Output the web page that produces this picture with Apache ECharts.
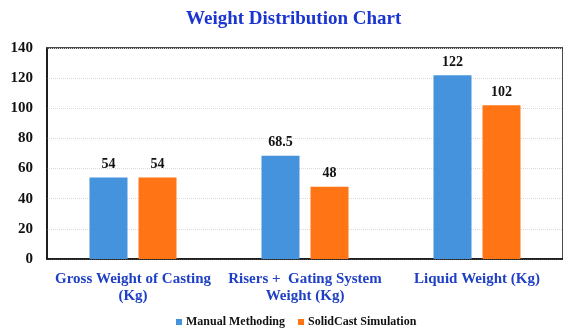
<!DOCTYPE html>
<html><head><meta charset="utf-8">
<script src="https://cdn.jsdelivr.net/npm/echarts@6/dist/echarts.min.js"></script>
<style>html,body{margin:0;padding:0;background:#fff}#c{width:563px;height:329px}</style>
</head><body><div id="c"></div>
<script>
const categories = ["Gross Weight of Casting\n(Kg)", "Risers +  Gating System\nWeight (Kg)", "Liquid Weight (Kg)"];
const manual = [54, 68.5, 122];
const solidcast = [54, 48, 102];
const seriesNames = ["Manual Methoding", "SolidCast Simulation"];
const yTicks = {min: 0, max: 140, interval: 20};

const serif = "'Liberation Serif', 'DejaVu Serif', serif";
const chart = echarts.init(document.getElementById('c'), null, {renderer: 'canvas'});
const lbl = {show: true, position: 'top', distance: 6, fontFamily: serif, fontWeight: 'bold', fontSize: 14, color: '#111'};
chart.setOption({
  animation: false,
  title: {text: 'Weight Distribution Chart', left: 181, top: 5,
    textStyle: {fontFamily: serif, fontWeight: 'bold', fontSize: 19, color: '#1a35d0'}},
  grid: {left: 47, right: -2, top: 48, bottom: 70, show: true, borderColor: '#111', borderWidth: 1.5, containLabel: false},
  legend: {top: 311, left: 171, itemWidth: 6, itemHeight: 6, itemGap: 13, icon: 'rect',
    textStyle: {fontFamily: serif, fontWeight: 'bold', fontSize: 12, color: '#111', padding: [0, 0, 0, -1]}},
  xAxis: {type: 'category', data: categories,
    axisLine: {show: true, lineStyle: {color: '#111', width: 1.5}}, axisTick: {show: false},
    axisLabel: {fontFamily: serif, fontWeight: 'bold', fontSize: 15, color: '#1f3fc4', lineHeight: 17, margin: 12, interval: 0}},
  yAxis: {type: 'value', min: yTicks.min, max: yTicks.max, interval: yTicks.interval,
    axisLine: {show: true, lineStyle: {color: '#111', width: 1.5}},
    axisLabel: {fontFamily: serif, fontWeight: 'bold', fontSize: 15, color: '#111', margin: 14},
    splitLine: {lineStyle: {color: '#d9d9d9', type: 'dotted'}}},
  series: [
    {name: seriesNames[0], type: 'bar', data: manual, barWidth: 38, barGap: '29%', itemStyle: {color: '#4493dc'}, label: lbl},
    {name: seriesNames[1], type: 'bar', data: solidcast, barWidth: 38, itemStyle: {color: '#ff7415'}, label: lbl}
  ]
});
</script></body></html>
